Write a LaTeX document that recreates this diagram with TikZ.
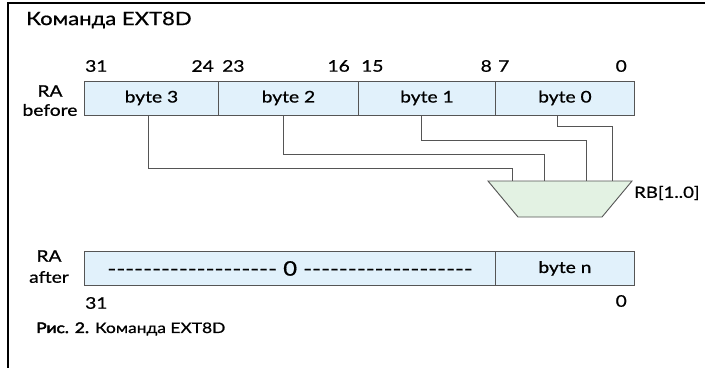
\documentclass[tikz,border=0pt]{standalone}
\usepackage{fontspec}
\setmainfont{Lato}[FakeStretch=1.2]
% slightly heavier face for the diagram labels
\newfontfamily\lblfont{Lato}[FakeStretch=1.2, FakeBold=0.8]
% heavy face for the figure number
\newfontfamily\capbold{Lato}[FakeStretch=1.2, FakeBold=3.2]
\definecolor{regfill}{HTML}{E1F1FB}
\definecolor{muxfill}{HTML}{E3F2E3}
\definecolor{wirec}{HTML}{555555}
% a run of plain hyphens, kept apart so they are not joined into dashes
\newcommand\hyrun{-{}-{}-{}-{}-{}-{}-{}-{}-{}-{}-{}-{}-{}-{}-{}-{}-{}-{}-}
\begin{document}
\begin{tikzpicture}[x=1pt,y=-1pt,
  field/.style={draw=wirec, line width=0.9pt, fill=regfill, minimum height=34pt,
    inner sep=0pt, anchor=north west, font=\lblfont\fontsize{16}{18}\selectfont},
  wire/.style={draw=wirec, line width=0.9pt},
  lbl/.style={font=\lblfont\fontsize{16}{18}\selectfont, inner sep=0pt},
  ]
\useasboundingbox (0,0) rectangle (705,368);
% page frame (top and left edges)
\draw[line width=1.4pt] (705,3) -- (8,3) -- (8,368);

% title
\node[lbl, anchor=west, font=\lblfont\fontsize{18.4}{20}\selectfont] (title) at (26,20) {Команда EXT8D};

% bit positions above RA (before)
\node[lbl, anchor=west] (h31) at (85,66) {31};
\node[lbl, anchor=east] (h24) at (214,66) {24};
\node[lbl, anchor=west] (h23) at (222,66) {23};
\node[lbl, anchor=east] (h16) at (350,66) {16};
\node[lbl, anchor=west] (h15) at (361,66) {15};
\node[lbl, anchor=east] (h8) at (492,66) {8};
\node[lbl, anchor=west] (h7) at (498,66) {7};
\node[lbl, anchor=east] (h0) at (627,66) {0};

% register RA before
\node[lbl] (ra1) at (50,91) {RA};
\node[lbl] (before) at (50,110) {before};
\node[field, minimum width=134pt] (b3) at (84,80.5) {byte 3};
\node[field, minimum width=140pt] (b2) at (218,80.5) {byte 2};
\node[field, minimum width=137pt] (b1) at (358,80.5) {byte 1};
\node[field, minimum width=139pt] (b0) at (495,80.5) {byte 0};

% multiplexer
\path[draw=wirec, line width=0.9pt, fill=muxfill]
  (488,181) -- (632,181) -- (602,217) -- (518,217) -- cycle;
\coordinate (mux) at (560,181);
\node[lbl, anchor=west, font=\lblfont\fontsize{15.5}{18}\selectfont] (rb) at (634,193) {RB[1..0]};

% byte lines into the multiplexer
\draw[wire] ([xshift=-3pt]b3.south) -- ++(0,53) -| ([xshift=-48pt]mux);
\draw[wire] ([xshift=-5pt]b2.south) -- ++(0,39) -| ([xshift=-16pt]mux);
\draw[wire] ([xshift=-5.5pt]b1.south) -- ++(0,25) -| ([xshift=26pt]mux);
\draw[wire] ([xshift=-7.5pt]b0.south) -- ++(0,11) -| ([xshift=52pt]mux);

% register RA after
\node[lbl] (ra2) at (49,256) {RA};
\node[lbl] (after) at (49,277) {after};
\node[field, minimum width=411pt, font=\lblfont\fontsize{20}{22}\selectfont] (zero) at (84,251)
  {\hyrun{} 0 \hyrun};
\node[field, minimum width=139pt] (bn) at (495,251) {byte n};
\node[lbl, anchor=west] (l31) at (85,303) {31};
\node[lbl, anchor=east] (l0) at (627,301) {0};

% caption
\node[lbl, anchor=west, font=\fontsize{14.5}{17}\selectfont] (cap) at (36,329)
  {{\capbold Рис. 2.} {\lblfont Команда EXT8D}};
\end{tikzpicture}
\end{document}
